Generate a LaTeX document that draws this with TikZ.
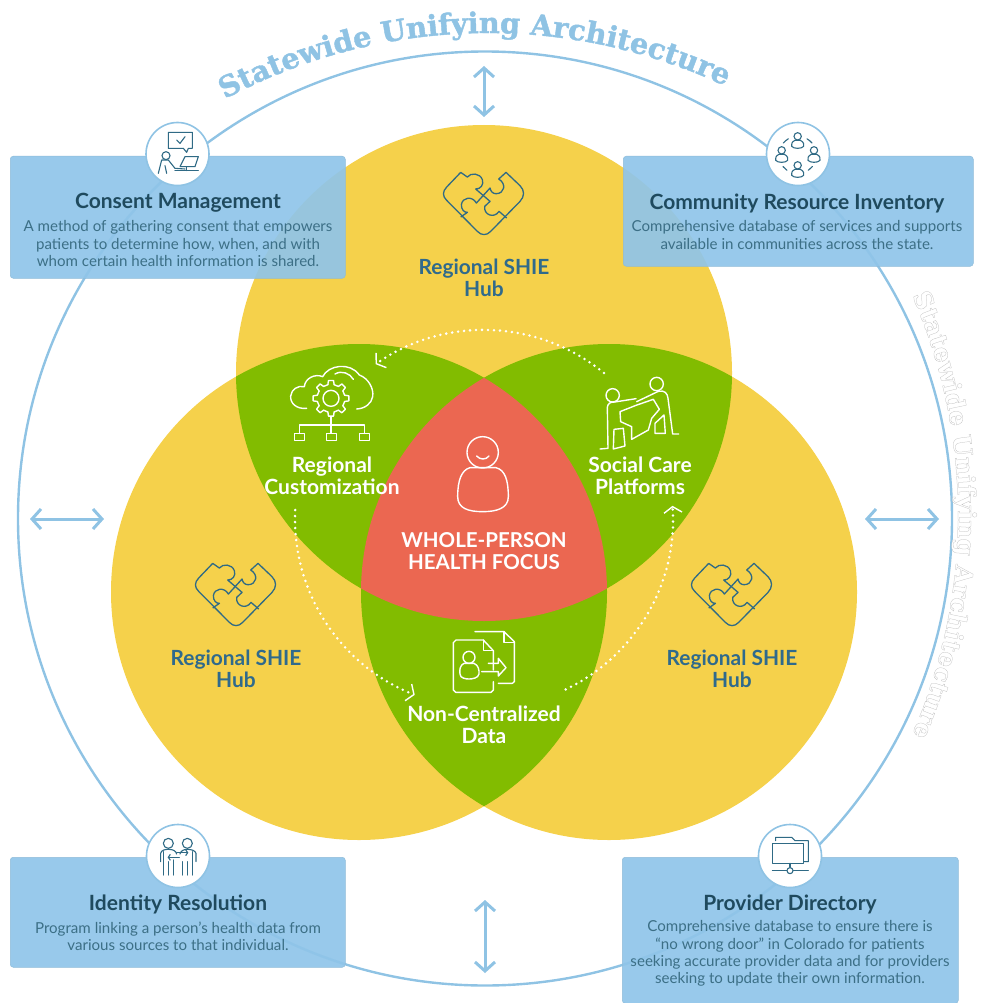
\documentclass[tikz,border=0pt]{standalone}
\usepackage{fontspec}
\usetikzlibrary{arrows.meta,decorations.text}
\setmainfont{Lato}
\newfontface\slabface{DejaVu Serif Bold}[FakeBold=1.5]
\newfontface\slabghost{DejaVu Serif Bold}[FakeBold=1]
\definecolor{swblue}{HTML}{8FC3E4}
\definecolor{boxblue}{HTML}{90C5E9}
\definecolor{hubyellow}{HTML}{F5D14B}
\definecolor{lensgreen}{HTML}{82BC00}
\definecolor{corered}{HTML}{EB6751}
\definecolor{titledark}{HTML}{1F4A5E}
\definecolor{bodyblue}{HTML}{3C6F86}
\definecolor{hubtext}{HTML}{2F6A8C}
\definecolor{iconblue}{HTML}{2F6A85}
\tikzset{
  infobox/.style={draw=boxblue!85!gray,line width=.5pt,fill=boxblue,fill opacity=.93,rounded corners=3pt,anchor=north west,inner sep=0pt},
  infotitle/.style={text=titledark,font=\fontsize{21}{24}\selectfont\bfseries,inner sep=0pt},
  infobody/.style={text=bodyblue,font=\fontsize{15.1}{17.3}\selectfont,align=center,inner sep=0pt},
  hublabel/.style={text=hubtext,font=\fontsize{20.9}{22}\selectfont\bfseries,align=center,inner sep=0pt},
  lenslabel/.style={text=white,font=\fontsize{21}{22}\selectfont\bfseries,align=center,inner sep=0pt},
  badge/.style={circle,draw=swblue,line width=1.6pt,fill=white,minimum size=63pt,inner sep=0pt},
  bigarrow/.style={draw=swblue,line width=3pt,{Straight Barb[length=9pt,width=20pt,line width=3pt]}-{Straight Barb[length=9pt,width=20pt,line width=3pt]}},
  dotarc/.style={draw=white,line width=2.8pt,line cap=round,dash pattern=on 0pt off 6pt},
  whiteicon/.style={draw=white,line width=1.4pt,line join=round,line cap=round},
  blueicon/.style={draw=iconblue,line width=1.1pt,line join=round,line cap=round},
  puzzle/.pic={
    \begin{scope}[shift={(-53.3,-43.3)},scale=1/3,draw=iconblue,line width=1.3pt,line join=round]
    \draw (90,38) -- (48,82) .. controls (35,95) and (35,110) .. (48,122) -- (140,215)
      .. controls (152,228) and (168,228) .. (180,215) -- (268,125)
      .. controls (282,110) and (282,92) .. (268,78) -- (226,38) -- (204,58)
      .. controls (228,72) and (222,102) .. (196,102) .. controls (186,102) and (180,95) .. (178,85) -- (137,130)
      .. controls (125,108) and (95,112) .. (92,135) .. controls (92,150) and (100,158) .. (110,158) -- (90,172);
    \draw (90,38) -- (110,52) .. controls (120,38) and (148,40) .. (155,60) .. controls (160,75) and (150,88) .. (135,88)
      -- (178,125) -- (162,140) .. controls (158,165) and (190,178) .. (205,155) -- (228,175);
    \end{scope}
  }
}
\begin{document}
\begin{tikzpicture}[x=1pt,y=-1pt]
\useasboundingbox (0,0) rectangle (980,1003);
% outer ring
\coordinate (ringc) at (485,518.5);
\draw[swblue,line width=2.4pt] (ringc) circle (467);
% venn
\coordinate (vt) at (484,373);
\coordinate (vl) at (359,592);
\coordinate (vr) at (609,592);
\fill[hubyellow] (vt) circle (248) (vl) circle (248) (vr) circle (248);
\begin{scope}\clip (vt) circle (248);\fill[lensgreen] (vl) circle (248);\fill[lensgreen] (vr) circle (248);\end{scope}
\begin{scope}\clip (vl) circle (248);\fill[lensgreen] (vr) circle (248);\end{scope}
\begin{scope}\clip (vt) circle (248);\clip (vl) circle (248);\fill[corered] (vr) circle (248);\end{scope}
% arrows
\coordinate (at1) at (484,66); \coordinate (at2) at (484,117);
\coordinate (ab1) at (485,900); \coordinate (ab2) at (485,973);
\coordinate (al1) at (30,519); \coordinate (al2) at (104,519);
\coordinate (ar1) at (865,519); \coordinate (ar2) at (939,519);
\draw[bigarrow] (at1) -- (at2);
\draw[bigarrow] (ab1) -- (ab2);
\draw[bigarrow] (al1) -- (al2);
\draw[bigarrow] (ar1) -- (ar2);
% dotted cycle
\coordinate (dc) at (484,519);
\draw[dotarc,-{Straight Barb[length=6pt,width=18pt,line width=1.4pt]}] (dc) ++(-50.6:189) arc[start angle=-50.6,end angle=-125,radius=189];
\draw[dotarc,-{Straight Barb[length=6pt,width=18pt,line width=1.4pt]}] (dc) ++(182.7:189) arc[start angle=182.7,end angle=111.5,radius=189];
\draw[dotarc,-{Straight Barb[length=6pt,width=18pt,line width=1.4pt]}] (dc) ++(64.4:189) arc[start angle=64.4,end angle=-4,radius=189];
% curved titles
\path[decorate,decoration={text along path,text align=center,text={|\slabface\fontsize{28.7}{28.7}\selectfont\color{swblue}|Statewide Unifying Architecture}}]
  (488,590) ++(-119:557) arc[start angle=-119,end angle=-64,radius=557];
\path[decorate,decoration={text along path,text align=center,text={|\slabghost\fontsize{25}{25}\selectfont\special{pdf:code 0.74 0.74 0.74 RG 1 1 1 rg}|Statewide Unifying Architecture}}]
  (410,515) ++(-25:548) arc[start angle=-25,end angle=25,radius=548];
% boxes
\node[infobox,minimum width=335pt,minimum height=122pt] (b1) at (10,156) {};
\node[infobox,minimum width=350pt,minimum height=110pt] (b2) at (623,156) {};
\node[infobox,minimum width=335pt,minimum height=110pt] (b3) at (10,857) {};
\node[infobox,minimum width=336pt,minimum height=146pt] (b4) at (622,857) {};
\node[badge] (i1) at (177.5,154) {};
\node[badge] (i2) at (798,154) {};
\node[badge] (i3) at (178,856) {};
\node[badge] (i4) at (790,856) {};
% box text
\node[infotitle] (t1) at (178,203) {Consent Management};
\node[infobody] (d1) at (178,243.5) {A method of gathering consent that empowers\\patients to determine how, when, and with\\whom certain health information is shared.};
\node[infotitle] (t2) at (797,203) {Community Resource Inventory};
\node[infobody] (d2) at (797,235) {Comprehensive database of services and supports\\available in communities across the state.};
\node[infotitle] (t3) at (178,904) {Identity Resolution};
\node[infobody] (d3) at (178,936) {Program linking a person's health data from\\various sources to that individual.};
\node[infotitle] (t4) at (790,904) {Provider Directory};
\node[infobody] (d4) at (790,953.5) {Comprehensive database to ensure there is\\“no wrong door” in Colorado for patients\\seeking accurate provider data and for providers\\seeking to update their own information.};
% hubs
\node[hublabel] (h1) at (484,278) {Regional SHIE\\Hub};
\node[hublabel] (h2) at (236,669) {Regional SHIE\\Hub};
\node[hublabel] (h3) at (732,669) {Regional SHIE\\Hub};
\pic at (484,203) {puzzle};
\pic at (236,594) {puzzle};
\pic at (732,594) {puzzle};
\node[lenslabel] (l1) at (332,476) {Regional\\Customization};
\node[lenslabel] (l2) at (640,476) {Social Care\\Platforms};
\node[lenslabel] (l3) at (484,725) {Non-Centralized\\Data};
\node[lenslabel,font=\fontsize{20.5}{22}\selectfont\bfseries] (l4) at (484,551) {WHOLE-PERSON\\HEALTH FOCUS};
% cloud icon
\begin{scope}[shift={(270,320)},scale=1/3,whiteicon]
\draw[whiteicon] (110,265) .. controls (80,268) and (60,250) .. (62,228) .. controls (64,208) and (85,195) .. (103,200)
  .. controls (105,175) and (135,160) .. (158,170) .. controls (175,135) and (240,125) .. (268,165)
  .. controls (295,175) and (312,205) .. (308,230) .. controls (305,250) and (285,266) .. (260,267);
\draw[whiteicon] (195,162) .. controls (215,150) and (240,160) .. (250,178);
\draw[whiteicon] (183,290) -- (183,338) (88,340) -- (88,315) -- (283,315) -- (283,340);
\draw[whiteicon] (74,341) rectangle (103,362) (170,341) rectangle (200,362) (268,341) rectangle (298,362);
\begin{scope}[shift={(183,235)}]
\draw[whiteicon] (0,0) circle (24);
\foreach \a in {0,45,...,315}{
  \draw[whiteicon] (\a-13:42) -- (\a-8:54) -- (\a+8:54) -- (\a+13:42);
  \draw[whiteicon] (\a+13:42) arc[start angle=\a+13,end angle=\a+32,radius=42];
}
\end{scope}
\end{scope}
% social care icon
\begin{scope}[shift={(270,320)},scale=1/3]
\draw[whiteicon] (1028,226) circle (20) (1160,192) circle (20);
\draw[whiteicon] (990,387) -- (1014,385) -- (1012,262) .. controls (1014,250) and (1020,246) .. (1034,246) -- (1098,236);
\draw[whiteicon] (1100,245) -- (1165,214) .. controls (1185,210) and (1192,220) .. (1194,235) -- (1208,342) -- (1226,342);
\draw[whiteicon] (1098,256) -- (1050,275) -- (1052,305) -- (1085,320) -- (1085,358) -- (1135,330) -- (1145,295) -- (1168,268) -- (1150,238) -- (1098,256);
\draw[whiteicon] (1032,328) -- (1060,325) -- (1065,378) -- (1030,387) -- cycle;
\draw[whiteicon] (1155,340) -- (1155,310) -- (1182,285) -- (1186,340) -- cycle;
\end{scope}
% person icon
\begin{scope}[shift={(270,320)},scale=1/3]
\draw[whiteicon] (638,397) circle (47);
\draw[whiteicon] (620,408) .. controls (630,420) and (648,420) .. (657,408);
\draw[whiteicon] (600,443) -- (678,443) .. controls (705,450) and (715,480) .. (715,530) .. controls (715,565) and (680,575) .. (638,575)
  .. controls (595,575) and (563,565) .. (563,530) .. controls (563,480) and (575,450) .. (600,443);
\end{scope}
% documents icon
\begin{scope}[shift={(280,500)},scale=1/3]
\draw[whiteicon] (640,510) -- (640,452) -- (610,420) -- (528,420) -- (520,428) -- (520,570) -- (527,577) -- (633,577) -- (640,570) -- (640,545);
\draw[whiteicon] (610,420) -- (610,452) -- (640,452);
\draw[whiteicon] (585,395) -- (672,395) -- (703,425) -- (703,545) -- (697,550) -- (655,550);
\draw[whiteicon] (672,395) -- (672,428) -- (703,428);
\draw[whiteicon] (567,472) circle (18);
\draw[whiteicon] (552,490) -- (582,490) .. controls (595,495) and (598,510) .. (597,522) .. controls (595,535) and (575,537) .. (567,537)
  .. controls (558,537) and (540,535) .. (540,522) .. controls (538,510) and (540,495) .. (552,490);
\draw[whiteicon] (625,490) -- (655,490) -- (655,475) -- (678,503) -- (655,528) -- (655,515) -- (605,515);
\end{scope}
% consent icon
\begin{scope}[shift={(130,115)},scale=1/3]
\draw[blueicon] (115,52) -- (187,52) -- (187,100) -- (175,100) -- (170,112) -- (160,100) -- (115,100) -- cycle;
\draw[blueicon] (140,75) -- (150,85) -- (165,65);
\draw[blueicon] (108,122) circle (12);
\draw[blueicon] (85,175) -- (95,135) -- (115,135) -- (135,160) -- (165,162);
\draw[blueicon] (105,152) -- (110,175);
\draw[blueicon] (165,125) -- (205,125) -- (195,155) -- (150,155) -- cycle;
\draw[blueicon] (135,167) -- (205,167) (170,155) -- (170,167);
\end{scope}
% community icon
\begin{scope}[shift={(500,0)},scale=1/3]
\foreach \px/\py in {893/423,845/465,942/465,893/510}{
  \draw[blueicon] (\px,\py-14) circle (11);
  \draw[blueicon] (\px-8,\py-2) -- (\px+8,\py-2) .. controls (\px+18,\py+2) and (\px+20,\py+12) .. (\px+18,\py+16) .. controls (\px+12,\py+24) and (\px-12,\py+24) .. (\px-18,\py+16) .. controls (\px-20,\py+12) and (\px-18,\py+2) .. (\px-8,\py-2);
}
\foreach \s/\e in {-120/-140,-60/-40,38/55,125/142}{
  \draw[blueicon] (893,465) ++(\s:56) arc[start angle=\s,end angle=\e,radius=56];
}
\end{scope}
% identity icon
\begin{scope}[shift={(0,810)},scale=1/3]
\draw[blueicon] (505,100) circle (15) (562,100) circle (15);
\draw[blueicon] (482,155) -- (482,130) .. controls (484,120) and (495,118) .. (505,118) .. controls (518,118) and (528,122) .. (530,132);
\draw[blueicon] (540,132) .. controls (542,122) and (552,118) .. (562,118) .. controls (575,118) and (586,122) .. (588,130) -- (588,155);
\draw[blueicon] (490,195) -- (490,125) (505,195) -- (505,155) (520,195) -- (520,150);
\draw[blueicon] (548,195) -- (548,155) (563,195) -- (563,155) (578,195) -- (578,125);
\draw[blueicon,-{Straight Barb[length=2pt,width=6pt]}] (530,128) -- (565,128);
\draw[blueicon,-{Straight Barb[length=2pt,width=6pt]}] (538,142) -- (503,142);
\end{scope}
% folder icon
\begin{scope}[shift={(600,810)},scale=1/3]
\draw[blueicon,line width=1.4pt] (517,100) -- (610,100) -- (610,160) -- (517,160) -- cycle;
\draw[blueicon,line width=1.1pt] (527,92) -- (527,82) -- (575,82) -- (585,92) -- (625,92) -- (625,155) -- (612,155);
\draw[blueicon,line width=1.1pt] (570,160) -- (570,172) (517,182) -- (560,182) (580,182) -- (625,182);
\draw[blueicon,line width=1.1pt] (570,182) circle (9);
\end{scope}
\end{tikzpicture}
\end{document}
